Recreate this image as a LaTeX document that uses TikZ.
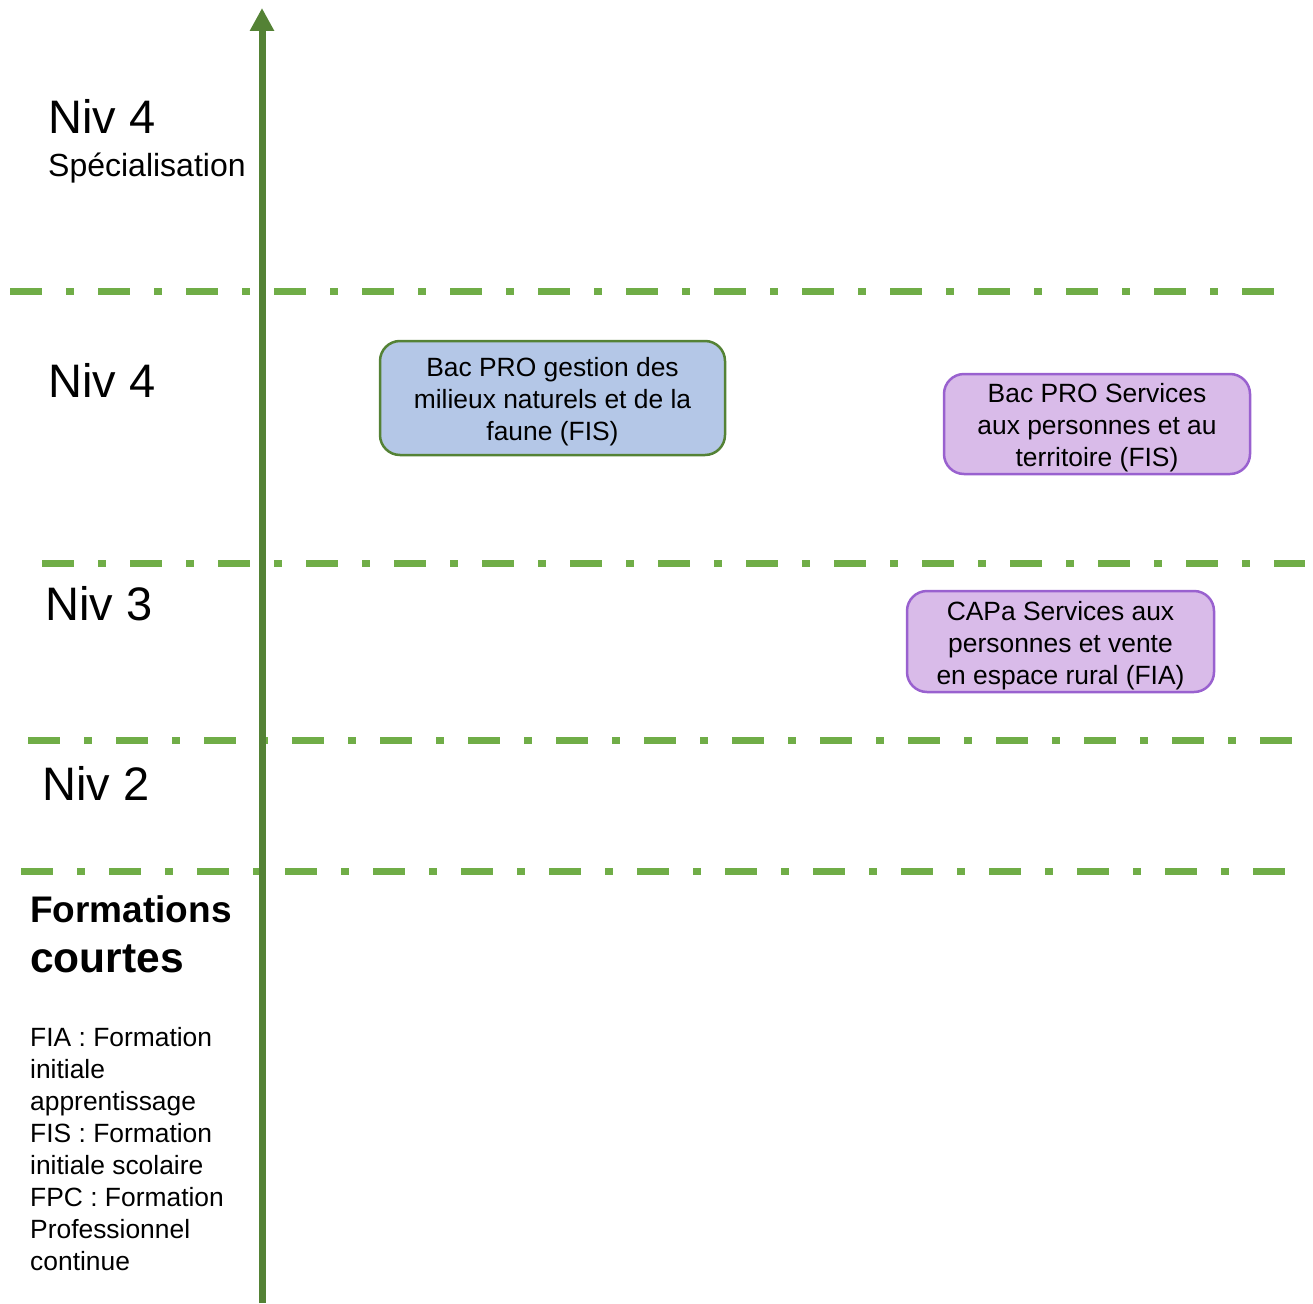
\documentclass[tikz,border=0pt]{standalone}
\usepackage{fontspec}
\setmainfont{Liberation Sans}
\usetikzlibrary{arrows.meta}
\definecolor{axe}{HTML}{548235}
\definecolor{trait}{HTML}{70AD47}
\definecolor{bleu}{HTML}{B4C7E7}
\definecolor{mauve}{HTML}{D9BBE9}
\definecolor{mauvebord}{HTML}{9961CF}
\newcommand{\hautligne}{\rule{0pt}{26.5pt}}
\begin{document}
\begin{tikzpicture}[x=1pt, y=-1pt, line join=round]
	\tikzset{sep/.style={trait, line width=7pt, dash pattern=on 32pt off 24pt on 8pt off 24pt},
		niv/.style={font=\fontsize{47}{56}\selectfont, anchor=base west, inner sep=0pt},
		formbox/.style={rounded corners=20pt, line width=2.5pt, align=center, inner sep=0pt,
			font=\fontsize{26.4}{32}\selectfont},
		gb/.style={formbox, draw=axe, fill=bleu},
		mb/.style={formbox, draw=mauvebord, fill=mauve}}
	\useasboundingbox (0,0) rectangle (1313,1303);
	\path (262,1303) coordinate (B)
	(262,8) coordinate (T)
	;
	% niveaux
	\foreach \y/\a/\b in {291/10/1275,563/42/1305,740/28/1293,871/21/1285}
		\draw[sep] (\a,\y) -- (\b,\y);
	\draw[axe, line width=7pt, -{Triangle[length=23pt,width=23pt]}] (B) -- (T);
	\foreach \y/\x/\t in {133/48/Niv 4,397/48/Niv 4,620/45/Niv 3,800/42/Niv 2}
		\node[niv] (niv\y) at (\x,\y) {\t};
	\node[anchor=base west, inner sep=0pt, font=\fontsize{32}{37}\selectfont] (spec) at (48,176) {Spécialisation};
	\node[anchor=base west, inner sep=0pt, font=\fontsize{37}{44}\selectfont\bfseries] (form) at (30,922) {Formations};
	\node[anchor=base west, inner sep=0pt, font=\fontsize{42.5}{50}\selectfont\bfseries] (court) at (30,972) {courtes};
	\node[anchor=north west, inner sep=0pt, align=left, font=\fontsize{26.4}{32}\selectfont] (leg) at (30,1027) {FIA : Formation\\initiale\\apprentissage\\FIS : Formation\\initiale scolaire\\FPC : Formation\\Professionnel\\continue};
	% formations
	\node[gb, minimum width=345pt, minimum height=114pt] (bacgmn) at (552.5,398) {\hautligne Bac PRO gestion des\\milieux naturels et de la\\faune (FIS)};
	\node[mb, minimum width=306pt, minimum height=100pt] (bacsapat) at (1097,424) {\hautligne Bac PRO Services\\aux personnes et au\\territoire (FIS)};
	\node[mb, minimum width=307pt, minimum height=101pt] (capa) at (1060.5,641.5) {\hautligne CAPa Services aux\\personnes et vente\\en espace rural (FIA)};
\end{tikzpicture}
\end{document}
